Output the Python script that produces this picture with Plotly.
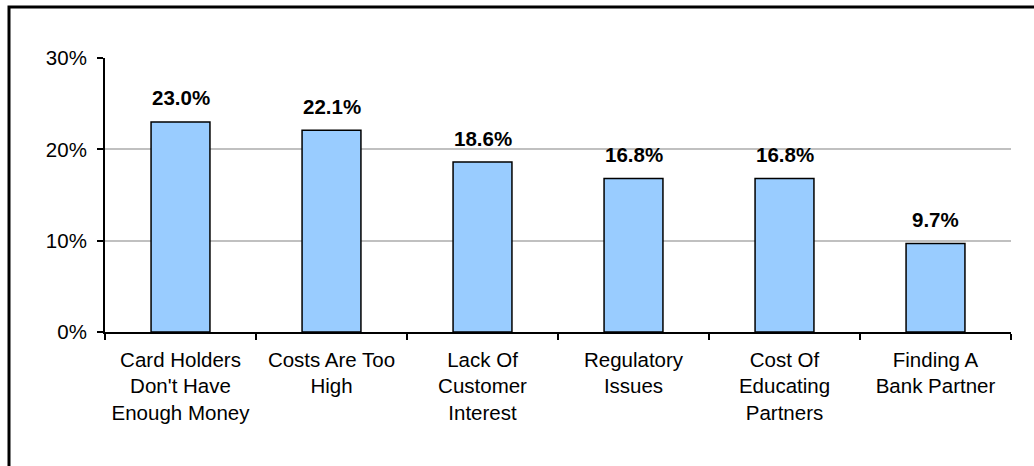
import plotly.graph_objects as go

categories = [
    "Card Holders<br>Don't Have<br>Enough Money",
    "Costs Are Too<br>High",
    "Lack Of<br>Customer<br>Interest",
    "Regulatory<br>Issues",
    "Cost Of<br>Educating<br>Partners",
    "Finding A<br>Bank Partner",
]
values = [23.0, 22.1, 18.6, 16.8, 16.8, 9.7]
y_ticks = [0, 10, 20, 30]

FONT = "Liberation Sans, Arial, sans-serif"
FS = 20.5

fig = go.Figure()
fig.add_trace(go.Bar(
    x=categories, y=values, width=0.39,
    marker=dict(color="#99CCFF", line=dict(color="black", width=1.5)),
    hoverinfo="skip",
))

for c, v in zip(categories, values):
    fig.add_annotation(
        x=c, y=v, xref="x", yref="y", text=f"<b>{v:.1f}%</b>",
        showarrow=False, yanchor="middle", yshift=24,
        font=dict(family=FONT, size=FS, color="black"),
    )

# outer border (only top and left visible in the frame)
fig.add_shape(type="rect", xref="paper", yref="paper",
              x0=(9 - 105) / 906, x1=(1045 - 105) / 906,
              y0=(332 - 475) / 274, y1=(332 - 7) / 274,
              line=dict(color="black", width=3), fillcolor="rgba(0,0,0,0)",
              layer="below")

fig.update_layout(
    width=1034, height=466,
    margin=dict(l=105, r=23, t=58, b=134),
    paper_bgcolor="white", plot_bgcolor="white",
    showlegend=False, bargap=0.61,
    font=dict(family=FONT, size=FS, color="black"),
)
fig.update_xaxes(
    type="category", showline=True, linecolor="black", linewidth=2,
    ticks="outside", tickson="boundaries", ticklen=6, tickwidth=2, tickcolor="black",
    ticklabelstandoff=8,
    showgrid=False, tickfont=dict(family=FONT, size=FS, color="black"),
)
fig.update_yaxes(
    range=[0, 30], tickvals=y_ticks, ticktext=[f"{t}%" for t in y_ticks],
    showline=True, linecolor="black", linewidth=2,
    ticks="outside", ticklen=6, tickwidth=2, tickcolor="black",
    ticklabelstandoff=6,
    showgrid=True, gridcolor="#C0C0C0", gridwidth=2, zeroline=False,
    tickfont=dict(family=FONT, size=FS, color="black"),
)

fig.write_html("out.html")
